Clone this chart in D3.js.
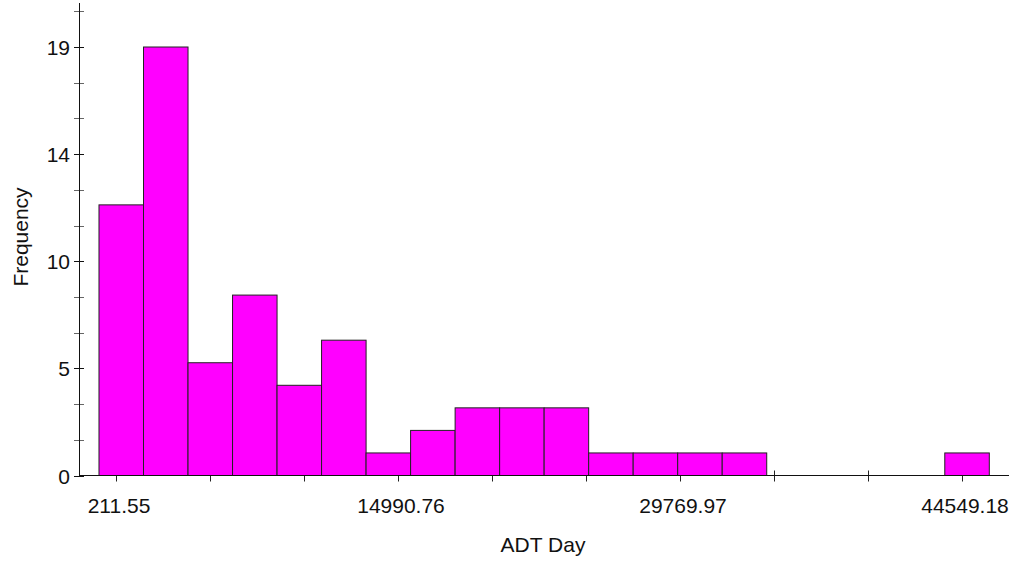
<!DOCTYPE html>
<html>
<head>
<meta charset="utf-8">
<script src="https://cdn.jsdelivr.net/npm/d3@7"></script>
<style>
  html, body { margin: 0; padding: 0; background: #fff; }
  svg text { font-family: "Liberation Sans", Arial, sans-serif; fill: #111; }
</style>
</head>
<body>
<svg id="chart" width="1020" height="562"></svg>
<script>
// Histogram of ADT Day: 20 equal-width bins
const binStart = -680;          // left edge of the first bin
const binWidth = 2333;          // width of each bin
const counts = [12, 19, 5, 8, 4, 6, 1, 2, 3, 3, 3, 1, 1, 1, 1, 0, 0, 0, 0, 1];

// Axis ticks
const xLabelTicks = [211.55, 14990.76, 29769.97, 44549.18];
const xTickStep = (44549.18 - 211.55) / 9;       // minor spacing (thirds)
const yMajorTicks = [0, 4.75, 9.5, 14.25, 19];
const yTickLabels = ["0", "5", "10", "14", "19"];
const yTickStep = 19 / 12;

const svg = d3.select("#chart");

const x = d3.scaleLinear().domain([211.55, 44549.18]).range([116, 962]);
const y = d3.scaleLinear().domain([0, 19]).range([475.5, 47]);

const xAxisY = 475.5;
const yAxisX = 79;

const bins = counts.map((c, i) => ({ x0: binStart + i * binWidth, x1: binStart + (i + 1) * binWidth, count: c }));

// x-axis ticks (all thirds between labelled values)
const xTicks = d3.range(0, 10).map(k => 211.55 + k * xTickStep);
svg.append("g").selectAll("line").data(xTicks).join("line")
  .attr("x1", d => Math.round(x(d)) + 0.5).attr("x2", d => Math.round(x(d)) + 0.5)
  .attr("y1", xAxisY - 5).attr("y2", xAxisY + 6)
  .attr("stroke", "#222").attr("stroke-width", 1);

// y-axis ticks
const yTicks = d3.range(0, 14).map(k => k * yTickStep);
svg.append("g").selectAll("line").data(yTicks).join("line")
  .attr("x1", yAxisX - 5).attr("x2", yAxisX + 5)
  .attr("y1", d => Math.round(y(d)) + 0.5).attr("y2", d => Math.round(y(d)) + 0.5)
  .attr("stroke", (d, i) => i % 3 === 0 ? "#111" : "#666").attr("stroke-width", 1);

// bars
svg.append("g").selectAll("rect").data(bins.filter(b => b.count > 0)).join("rect")
  .attr("x", d => x(d.x0))
  .attr("y", d => y(d.count))
  .attr("width", d => x(d.x1) - x(d.x0))
  .attr("height", d => y(0) - y(d.count))
  .attr("fill", "#ff00ff")
  .attr("stroke", "#222")
  .attr("stroke-width", 1);

// axis lines
svg.append("line")
  .attr("x1", yAxisX).attr("x2", 1009)
  .attr("y1", xAxisY).attr("y2", xAxisY)
  .attr("stroke", "#111").attr("stroke-width", 1);
svg.append("line")
  .attr("x1", yAxisX + 0.5).attr("x2", yAxisX + 0.5)
  .attr("y1", 3).attr("y2", xAxisY)
  .attr("stroke", "#111").attr("stroke-width", 1);

// x tick labels
svg.append("g").selectAll("text").data(xLabelTicks).join("text")
  .attr("x", d => x(d) + 3)
  .attr("y", 513)
  .attr("text-anchor", "middle")
  .attr("font-size", 21)
  .text(d => d.toFixed(2));

// y tick labels
svg.append("g").selectAll("text").data(yMajorTicks).join("text")
  .attr("x", 70)
  .attr("y", d => y(d) + 8)
  .attr("text-anchor", "end")
  .attr("font-size", 21)
  .text((d, i) => yTickLabels[i]);

// axis titles
svg.append("text")
  .attr("x", 543).attr("y", 552)
  .attr("text-anchor", "middle")
  .attr("font-size", 21)
  .text("ADT Day");

svg.append("text")
  .attr("transform", "translate(28,237) rotate(-90)")
  .attr("text-anchor", "middle")
  .attr("font-size", 21)
  .text("Frequency");
</script>
</body>
</html>
